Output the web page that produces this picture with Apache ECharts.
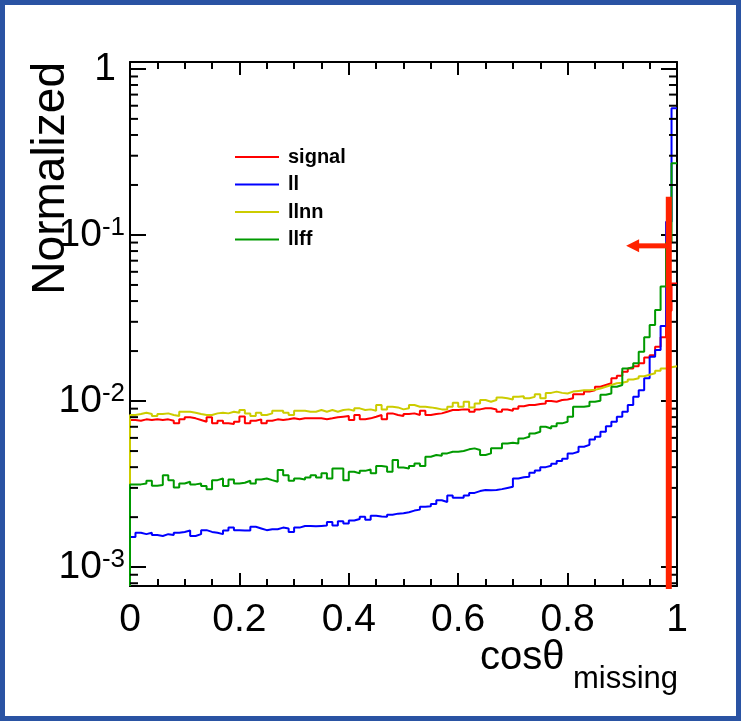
<!DOCTYPE html>
<html><head><meta charset="utf-8">
<script src="https://cdn.jsdelivr.net/npm/echarts@6/dist/echarts.min.js"></script>
<style>html,body{margin:0;padding:0;background:#fff}#c{width:741px;height:721px}</style>
</head><body><div id="c"></div>
<script>
// ---- data ----
const nBins = 100, xLo = 0, xHi = 1;
const seriesNames = ['signal', 'll', 'llnn', 'llff'];
const seriesColors = ['#ff0000', '#0000ff', '#cccc00', '#009a00'];
const xTickLabels = ['0', '0.2', '0.4', '0.6', '0.8', '1'];
const yMin = 7.7e-4, yMax = 1.1;

const signal = [
  7.70e-3, 7.61e-3, 7.76e-3, 7.69e-3, 7.76e-3, 7.69e-3, 7.76e-3, 7.61e-3, 7.34e-3, 7.76e-3,
  7.98e-3, 7.87e-3, 7.69e-3, 7.51e-3, 7.98e-3, 7.34e-3, 7.61e-3, 7.34e-3, 7.28e-3, 7.51e-3,
  8.06e-3, 7.34e-3, 7.61e-3, 7.76e-3, 7.34e-3, 7.61e-3, 7.76e-3, 7.69e-3, 7.76e-3, 7.87e-3,
  7.76e-3, 7.87e-3, 7.87e-3, 7.87e-3, 7.87e-3, 7.78e-3, 7.87e-3, 7.98e-3, 8.05e-3, 8.12e-3,
  7.69e-3, 8.24e-3, 7.78e-3, 7.87e-3, 8.05e-3, 8.24e-3, 7.78e-3, 8.43e-3, 8.24e-3, 8.12e-3,
  8.35e-3, 8.43e-3, 8.24e-3, 8.75e-3, 8.24e-3, 8.35e-3, 8.43e-3, 8.63e-3, 8.83e-3, 8.83e-3,
  8.91e-3, 8.91e-3, 8.63e-3, 8.91e-3, 9.04e-3, 9.04e-3, 8.90e-3, 8.62e-3, 8.90e-3, 8.75e-3,
  9.00e-3, 9.30e-3, 9.46e-3, 9.46e-3, 9.60e-3, 9.68e-3, 1.00e-2, 9.91e-3, 1.014e-2, 1.023e-2,
  1.04e-2, 1.10e-2, 1.10e-2, 1.14e-2, 1.16e-2, 1.22e-2, 1.25e-2, 1.28e-2, 1.37e-2, 1.42e-2,
  1.50e-2, 1.57e-2, 1.62e-2, 1.69e-2, 1.83e-2, 1.89e-2, 2.12e-2, 2.42e-2, 3.5e-2, 5.1e-2
];
const ll = [
  1.52e-3, 1.61e-3, 1.58e-3, 1.61e-3, 1.56e-3, 1.54e-3, 1.58e-3, 1.56e-3, 1.61e-3, 1.63e-3,
  1.66e-3, 1.54e-3, 1.58e-3, 1.67e-3, 1.63e-3, 1.61e-3, 1.58e-3, 1.66e-3, 1.73e-3, 1.67e-3,
  1.66e-3, 1.66e-3, 1.75e-3, 1.71e-3, 1.67e-3, 1.69e-3, 1.69e-3, 1.73e-3, 1.71e-3, 1.63e-3,
  1.73e-3, 1.77e-3, 1.77e-3, 1.76e-3, 1.77e-3, 1.78e-3, 1.87e-3, 1.78e-3, 1.89e-3, 1.83e-3,
  1.91e-3, 1.95e-3, 2.01e-3, 1.93e-3, 2.04e-3, 2.02e-3, 2.01e-3, 2.07e-3, 2.10e-3, 2.11e-3,
  2.14e-3, 2.19e-3, 2.22e-3, 2.31e-3, 2.33e-3, 2.40e-3, 2.53e-3, 2.47e-3, 2.70e-3, 2.62e-3,
  2.62e-3, 2.70e-3, 2.80e-3, 2.87e-3, 2.91e-3, 2.90e-3, 2.91e-3, 2.95e-3, 3.00e-3, 3.05e-3,
  3.42e-3, 3.48e-3, 3.50e-3, 3.70e-3, 3.82e-3, 4.00e-3, 4.08e-3, 4.20e-3, 4.35e-3, 4.50e-3,
  4.84e-3, 4.95e-3, 5.31e-3, 5.45e-3, 5.87e-3, 6.10e-3, 6.53e-3, 7.06e-3, 7.50e-3, 8.04e-3,
  8.62e-3, 9.46e-3, 1.06e-2, 1.16e-2, 1.37e-2, 1.85e-2, 2.03e-2, 2.83e-2, 0.12, 0.58
];
const llnn = [
  8.24e-3, 8.35e-3, 8.51e-3, 8.35e-3, 8.12e-3, 8.35e-3, 8.43e-3, 8.24e-3, 8.12e-3, 8.63e-3,
  8.63e-3, 8.51e-3, 8.35e-3, 8.24e-3, 8.24e-3, 8.43e-3, 8.51e-3, 8.43e-3, 8.63e-3, 8.51e-3,
  8.83e-3, 8.43e-3, 8.12e-3, 8.51e-3, 8.24e-3, 8.43e-3, 8.75e-3, 8.75e-3, 8.51e-3, 8.24e-3,
  8.75e-3, 8.75e-3, 8.63e-3, 8.63e-3, 8.83e-3, 8.63e-3, 8.83e-3, 8.63e-3, 8.83e-3, 8.91e-3,
  8.75e-3, 9.04e-3, 8.83e-3, 8.91e-3, 8.75e-3, 9.46e-3, 8.91e-3, 9.24e-3, 9.16e-3, 8.91e-3,
  9.04e-3, 9.46e-3, 9.24e-3, 9.24e-3, 9.16e-3, 9.04e-3, 8.91e-3, 8.91e-3, 9.24e-3, 9.77e-3,
  9.24e-3, 9.91e-3, 9.16e-3, 9.68e-3, 1.014e-2, 9.91e-3, 1.014e-2, 1.05e-2, 1.04e-2, 1.023e-2,
  1.06e-2, 1.07e-2, 1.04e-2, 1.06e-2, 1.10e-2, 1.04e-2, 1.12e-2, 1.14e-2, 1.12e-2, 1.11e-2,
  1.14e-2, 1.15e-2, 1.16e-2, 1.16e-2, 1.17e-2, 1.19e-2, 1.22e-2, 1.25e-2, 1.28e-2, 1.29e-2,
  1.31e-2, 1.35e-2, 1.37e-2, 1.41e-2, 1.44e-2, 1.47e-2, 1.52e-2, 1.57e-2, 1.60e-2, 1.62e-2
];
const llff = [
  3.15e-3, 3.15e-3, 3.19e-3, 3.31e-3, 3.09e-3, 3.12e-3, 3.58e-3, 3.34e-3, 3.02e-3, 3.19e-3,
  3.27e-3, 3.15e-3, 3.19e-3, 3.08e-3, 2.94e-3, 3.34e-3, 3.42e-3, 3.08e-3, 3.37e-3, 3.19e-3,
  3.22e-3, 3.31e-3, 3.19e-3, 3.37e-3, 3.42e-3, 3.34e-3, 3.27e-3, 3.84e-3, 3.58e-3, 3.31e-3,
  3.42e-3, 3.37e-3, 3.47e-3, 3.58e-3, 3.47e-3, 3.67e-3, 3.42e-3, 3.93e-3, 3.93e-3, 3.34e-3,
  3.75e-3, 3.67e-3, 3.80e-3, 3.87e-3, 3.67e-3, 4.06e-3, 4.02e-3, 3.75e-3, 4.41e-3, 3.98e-3,
  3.93e-3, 4.06e-3, 4.21e-3, 4.06e-3, 4.62e-3, 4.73e-3, 4.69e-3, 4.84e-3, 4.95e-3, 4.95e-3,
  5.00e-3, 5.12e-3, 5.19e-3, 5.07e-3, 4.73e-3, 4.84e-3, 5.19e-3, 5.19e-3, 5.56e-3, 5.61e-3,
  5.56e-3, 5.96e-3, 6.10e-3, 6.38e-3, 6.53e-3, 7.00e-3, 6.84e-3, 7.06e-3, 7.34e-3, 7.50e-3,
  8.04e-3, 9.24e-3, 9.24e-3, 9.33e-3, 9.91e-3, 1.004e-2, 1.09e-2, 1.11e-2, 1.22e-2, 1.25e-2,
  1.57e-2, 1.60e-2, 1.69e-2, 1.98e-2, 2.42e-2, 2.87e-2, 3.53e-2, 4.89e-2, 9.0e-2, 0.27
];
const histValues = [signal, ll, llnn, llff];

// cut marker (x position, top of line, arrow height, arrow tip)
const cutX = 0.985, cutTop = 0.17, arrowY = 0.086, arrowTipX = 0.907;

// minor tick values of the log axis
const yMinorTicks = [];
for (let e = -4; e <= 0; e++) for (let m = 2; m <= 9; m++) {
  const v = m * Math.pow(10, e);
  if (v > yMin && v < yMax) yMinorTicks.push(v);
}

// ---- chart ----
const F = '"Liberation Sans", Arial, Helvetica, sans-serif';
function stepData(vals) {
  const w = (xHi - xLo) / nBins;
  const d = [[xLo, yMin]];
  vals.forEach((v, i) => d.push([xLo + i * w, v]));
  d.push([xHi, vals[vals.length - 1]]);
  return d;
}
function yFmt(v) {
  const e = Math.log10(v), r = Math.round(e);
  if (Math.abs(e - r) > 1e-6) return '';
  if (r === 0) return '{b|1}{sp| }';
  return '{b|10}{s|' + r + '}';
}
const chart = echarts.init(document.getElementById('c'), null, {renderer: 'canvas'});
const histSeries = seriesNames.map((n, k) => ({
  name: n, type: 'line', step: 'end', data: stepData(histValues[k]),
  showSymbol: false, symbol: 'none', color: seriesColors[k],
  lineStyle: {color: seriesColors[k], width: 2}, z: 3 + k, animation: false
}));
const axisCommonX = {
  type: 'value', min: xLo, max: xHi, interval: 0.2,
  axisLine: {show: true, onZero: false, lineStyle: {color: '#000', width: 2}},
  axisTick: {show: true, inside: true, length: 13, lineStyle: {color: '#000', width: 2}},
  minorTick: {show: true, splitNumber: 4, length: 7, lineStyle: {color: '#000', width: 2}},
  splitLine: {show: false}, minorSplitLine: {show: false}
};
const axisCommonY = {
  type: 'log', logBase: 10, min: yMin, max: yMax,
  axisLine: {show: true, onZero: false, lineStyle: {color: '#000', width: 2}},
  axisTick: {show: true, inside: true, length: 16, lineStyle: {color: '#000', width: 2}},
  splitLine: {show: false}
};
chart.setOption({
  animation: false,
  backgroundColor: '#fff',
  grid: {left: 130, right: 64, top: 62, bottom: 135, containLabel: false, outerBoundsMode: 'none'},
  legend: {
    show: true, orient: 'vertical', left: 235, top: 146, padding: 0, data: seriesNames,
    icon: 'rect', itemWidth: 44, itemHeight: 2, itemGap: 5.5, selectedMode: false,
    textStyle: {fontFamily: F, fontSize: 20, fontWeight: 'bold', color: '#000', lineHeight: 22, padding: [0, 0, 0, 4]}
  },
  xAxis: [
    Object.assign({}, axisCommonX, {position: 'bottom',
      axisLabel: {show: true, margin: 15, fontFamily: F, fontSize: 39, color: '#000',
        formatter: v => xTickLabels[Math.round((v - xLo) / 0.2)]}}),
    Object.assign({}, axisCommonX, {position: 'top', axisLabel: {show: false}})
  ],
  yAxis: [
    Object.assign({}, axisCommonY, {position: 'left',
      axisLabel: {show: true, margin: 5, showMinLabel: false, showMaxLabel: false, formatter: yFmt,
        rich: {
          b: {fontFamily: F, fontSize: 39, lineHeight: 40, color: '#000'},
          s: {fontFamily: F, fontSize: 26, lineHeight: 14, verticalAlign: 'top', color: '#000'},
          sp: {width: 9, fontSize: 10}
        }}}),
    Object.assign({}, axisCommonY, {position: 'right', axisLabel: {show: false}})
  ],
  graphic: [
    {type: 'rect', shape: {x: 2.5, y: 2.5, width: 736, height: 716},
     style: {fill: 'none', stroke: '#2a53a3', lineWidth: 5}, z: 100},
    {type: 'text', x: 51, y: 62, rotation: Math.PI / 2,
     style: {text: 'Normalized', font: '46px ' + F, fill: '#000', textAlign: 'right', textVerticalAlign: 'middle'}},
    {type: 'text', x: 480, y: 658,
     style: {text: 'cos\u03b8', font: '40px ' + F, fill: '#000', textAlign: 'left', textVerticalAlign: 'middle'}},
    {type: 'text', x: 573, y: 679,
     style: {text: 'missing', font: '31px ' + F, fill: '#000', textAlign: 'left', textVerticalAlign: 'middle'}}
  ],
  series: histSeries.concat([
    {
      type: 'custom', silent: true, z: 20, clip: false,
      data: yMinorTicks.map(v => [0.5, v]), encode: {x: 0, y: 1},
      renderItem: (params, api) => {
        const cs = params.coordSys;
        const y = api.coord([0.5, api.value(1)])[1];
        return {type: 'group', children: [
          {type: 'line', shape: {x1: cs.x, y1: y, x2: cs.x + 8, y2: y}, style: {stroke: '#000', lineWidth: 2}},
          {type: 'line', shape: {x1: cs.x + cs.width, y1: y, x2: cs.x + cs.width - 8, y2: y}, style: {stroke: '#000', lineWidth: 2}}
        ]};
      }
    },
    {
      type: 'custom', silent: true, z: 30, clip: false,
      data: [[cutX, cutTop, arrowY, arrowTipX]], encode: {x: 0, y: 1},
      dimensions: ['x', 'top', 'ay', 'tip'],
      renderItem: (params, api) => {
        const cs = params.coordSys;
        const top = api.coord([api.value(0), api.value(1)]);
        const a = api.coord([api.value(0), api.value(2)]);
        const tip = api.coord([api.value(3), api.value(2)]);
        const bottom = cs.y + cs.height + 3;
        const col = '#ff2200';
        return {type: 'group', children: [
          {type: 'rect', shape: {x: top[0] - 3, y: top[1], width: 6, height: bottom - top[1]}, style: {fill: col}},
          {type: 'rect', shape: {x: tip[0] + 12, y: a[1] - 2.5, width: a[0] - tip[0] - 12, height: 5}, style: {fill: col}},
          {type: 'polygon', shape: {points: [[tip[0], a[1]], [tip[0] + 13, a[1] - 6.5], [tip[0] + 13, a[1] + 6.5]]}, style: {fill: col}}
        ]};
      }
    }
  ])
});
</script></body></html>
